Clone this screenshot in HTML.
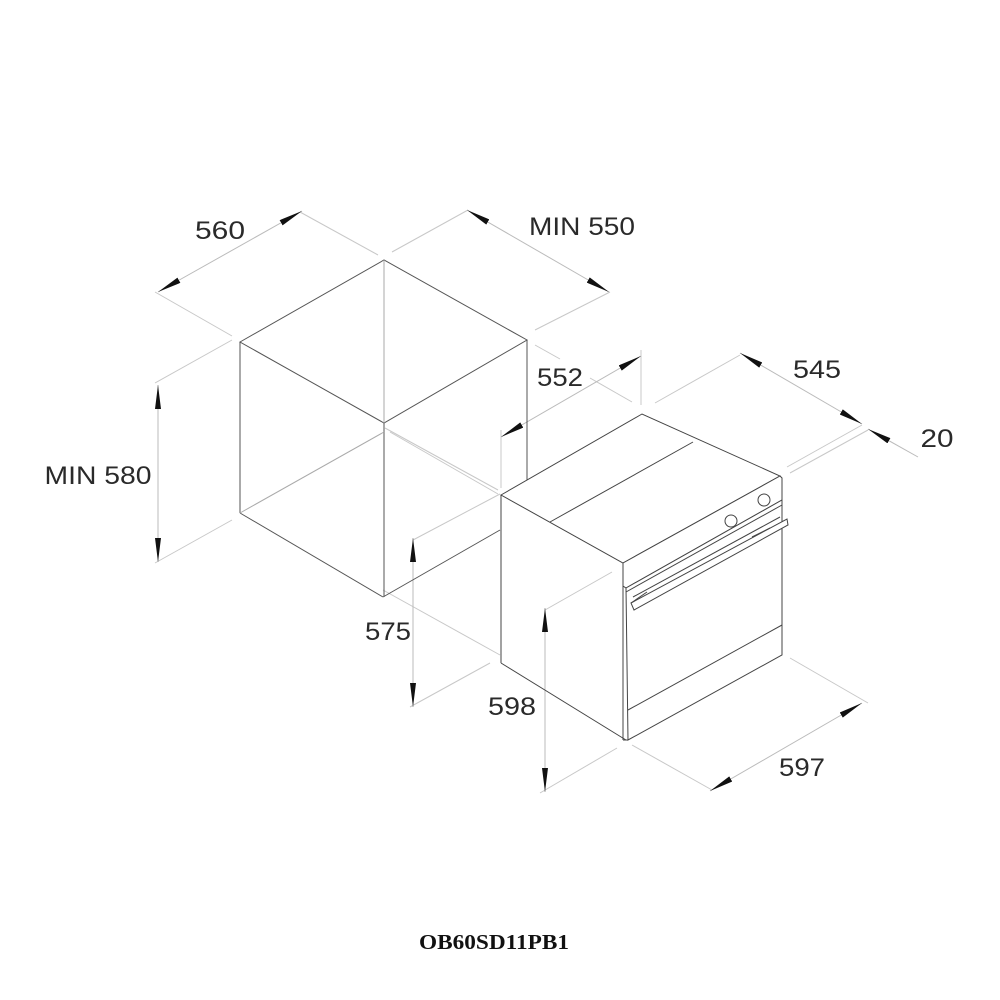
<!DOCTYPE html>
<html><head><style>html,body{margin:0;padding:0;background:#fff}svg{display:block}</style></head>
<body>
<svg width="1000" height="1000" viewBox="0 0 1000 1000" xmlns="http://www.w3.org/2000/svg">
<defs>
<marker id="a" viewBox="0 0 24 6" refX="24" refY="3" markerWidth="24" markerHeight="6" markerUnits="userSpaceOnUse" orient="auto-start-reverse">
<path d="M24,3 L0,0 L0,6 Z" fill="#111"/>
</marker>
</defs>
<g stroke="#c8c8c8" stroke-width="1" fill="none">
<line x1="155" y1="292" x2="232" y2="336"/>
<line x1="300" y1="212" x2="378" y2="255"/>
<line x1="392" y1="252" x2="468" y2="210"/>
<line x1="535" y1="330" x2="610" y2="292"/>
<line x1="155" y1="383" x2="232" y2="340"/>
<line x1="155" y1="563" x2="232" y2="520"/>
<line x1="641" y1="350" x2="641" y2="405"/>
<line x1="501" y1="430" x2="501" y2="488"/>
<line x1="535" y1="345" x2="560" y2="359"/>
<line x1="590" y1="378" x2="632" y2="402"/>
<line x1="655" y1="403" x2="740" y2="355"/>
<line x1="787" y1="467" x2="862" y2="425"/>
<line x1="790" y1="473" x2="868" y2="430"/>
<line x1="413" y1="540" x2="500" y2="494"/>
<line x1="410" y1="707" x2="490" y2="663"/>
<line x1="545" y1="610" x2="612" y2="572"/>
<line x1="540" y1="793" x2="617" y2="748"/>
<line x1="632" y1="745" x2="712" y2="790"/>
<line x1="790" y1="658" x2="868" y2="703"/>
<line x1="383" y1="590" x2="500" y2="655"/>
<line x1="385" y1="428" x2="498" y2="490"/>
<line x1="390" y1="432" x2="498" y2="494"/>
</g>
<g stroke="#bbb" stroke-width="1" fill="none">
<line x1="158" y1="385" x2="158" y2="562" marker-start="url(#a)" marker-end="url(#a)"/>
<line x1="158" y1="292" x2="302" y2="211" marker-start="url(#a)" marker-end="url(#a)"/>
<line x1="467" y1="210" x2="609" y2="292" marker-start="url(#a)" marker-end="url(#a)"/>
<line x1="501" y1="437" x2="641" y2="356" marker-start="url(#a)" marker-end="url(#a)"/>
<line x1="740" y1="353" x2="862" y2="424" marker-start="url(#a)" marker-end="url(#a)"/>
<line x1="868" y1="429" x2="918" y2="457" marker-start="url(#a)"/>
<line x1="413" y1="538" x2="413" y2="707" marker-start="url(#a)" marker-end="url(#a)"/>
<line x1="545" y1="608" x2="545" y2="792" marker-start="url(#a)" marker-end="url(#a)"/>
<line x1="710" y1="791" x2="862" y2="703" marker-start="url(#a)" marker-end="url(#a)"/>
</g>
<g stroke="#555" stroke-width="1" fill="none">
<path d="M240,342 L384,260 L527,340 L384,423 Z"/>
<line x1="240" y1="342" x2="240" y2="513"/>
<line x1="240" y1="513" x2="383" y2="597"/>
<line x1="384" y1="423" x2="384" y2="597"/>
<line x1="527" y1="340" x2="527" y2="482"/>
<line x1="383" y1="597" x2="500" y2="530"/>
</g>
<g stroke="#aaa" stroke-width="1" fill="none">
<line x1="384" y1="260" x2="384" y2="423"/>
<line x1="384" y1="432" x2="240" y2="513"/>
</g>
<g stroke="#444" stroke-width="1" fill="none">
<path d="M501,495 L642,414 L780,476 L623,563 Z" fill="#fff"/>
<line x1="550" y1="522" x2="693" y2="442"/>
<line x1="501" y1="495" x2="501" y2="663"/>
<line x1="501" y1="663" x2="626" y2="740"/>
<path d="M623,563 L780,476 L782,478 L782,500 L626,588 L623,586 Z" fill="#fff"/>
<path d="M626,588 L782,500 L782,655 L628,740 Z" fill="#fff"/>
<line x1="626" y1="592" x2="782" y2="505"/>
<line x1="628" y1="710" x2="782" y2="625"/>
<line x1="623" y1="563" x2="623" y2="740"/>
<line x1="623" y1="740" x2="628" y2="740"/>
<path d="M631,603 L787,519 L788,525 L634,610 Z" fill="#fff"/>
<line x1="633" y1="597" x2="780" y2="517"/>
<line x1="631" y1="603" x2="647" y2="592"/>
<line x1="752" y1="537" x2="770" y2="528"/>
<circle cx="731" cy="521" r="6" fill="#fff"/>
<circle cx="764" cy="500" r="6" fill="#fff"/>
</g>
<g font-family="Liberation Sans, sans-serif" font-size="25" fill="#2a2a2a" text-anchor="middle">
<text x="220" y="239" textLength="50" lengthAdjust="spacingAndGlyphs">560</text>
<text x="582" y="235" textLength="106" lengthAdjust="spacingAndGlyphs">MIN 550</text>
<text x="98" y="484" textLength="107" lengthAdjust="spacingAndGlyphs">MIN 580</text>
<text x="560" y="386" textLength="46" lengthAdjust="spacingAndGlyphs">552</text>
<text x="817" y="378" textLength="48" lengthAdjust="spacingAndGlyphs">545</text>
<text x="937" y="447" textLength="33" lengthAdjust="spacingAndGlyphs">20</text>
<text x="388" y="640" textLength="46" lengthAdjust="spacingAndGlyphs">575</text>
<text x="512" y="715" textLength="48" lengthAdjust="spacingAndGlyphs">598</text>
<text x="802" y="776" textLength="46" lengthAdjust="spacingAndGlyphs">597</text>
</g>
<text x="494" y="949" font-family="Liberation Serif, serif" font-weight="bold" font-size="21" text-anchor="middle" fill="#111" textLength="150" lengthAdjust="spacingAndGlyphs">OB60SD11PB1</text>
</svg>
</body></html>
